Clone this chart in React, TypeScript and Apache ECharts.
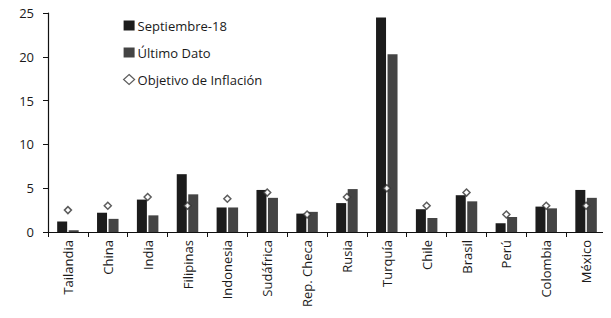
import React, { useEffect, useRef } from "react";
import * as echarts from "echarts";

const categories = [
  "Tailandia", "China", "India", "Filipinas", "Indonesia", "Sudáfrica", "Rep. Checa",
  "Rusia", "Turquía", "Chile", "Brasil", "Perú", "Colombia", "México",
];
const septiembre18 = [1.2, 2.2, 3.7, 6.6, 2.8, 4.8, 2.1, 3.3, 24.5, 2.6, 4.2, 1.0, 2.9, 4.8];
const ultimoDato = [0.2, 1.5, 1.9, 4.3, 2.8, 3.9, 2.3, 4.9, 20.3, 1.6, 3.5, 1.7, 2.7, 3.9];
const objetivo = [2.5, 3.0, 4.0, 3.0, 3.8, 4.5, 2.0, 4.0, 5.0, 3.0, 4.5, 2.0, 3.0, 3.0];
const yTicks = [0, 5, 10, 15, 20, 25];

const FONT = "Open Sans";

export default function App() {
  const ref = useRef<HTMLDivElement>(null);
  useEffect(() => {
    if (!ref.current) return;
    const chart = echarts.init(ref.current, undefined, { renderer: "svg" });
    chart.setOption({
      animation: false,
      backgroundColor: "#ffffff",
      textStyle: { fontFamily: FONT },
      legend: {
        orient: "vertical",
        left: 118,
        top: 14,
        itemGap: 14,
        itemWidth: 11,
        itemHeight: 10,
        textStyle: { fontFamily: FONT, fontSize: 13, color: "#1a1a1a", padding: [0, 0, 0, -2] },
        data: [
          { name: "Septiembre-18", icon: "rect" },
          { name: "Último Dato", icon: "rect" },
          { name: "Objetivo de Inflación", icon: "diamond", itemStyle: { color: "#fff", borderColor: "#333", borderWidth: 1.2 } },
        ],
      },
      grid: { left: 48, right: 5, top: 13, bottom: 86, containLabel: false },
      xAxis: {
        type: "category",
        data: categories,
        axisLine: { show: true, lineStyle: { color: "#111", width: 1.2 } },
        axisTick: { show: true, alignWithLabel: false, length: 5, lineStyle: { color: "#111" } },
        axisLabel: { rotate: 90, margin: 8, fontSize: 13, color: "#1a1a1a", fontFamily: FONT, interval: 0 },
      },
      yAxis: {
        type: "value",
        min: yTicks[0],
        max: yTicks[yTicks.length - 1],
        interval: 5,
        splitLine: { show: false },
        axisLine: { show: true, lineStyle: { color: "#111", width: 1.2 } },
        axisTick: { show: true, length: 5, lineStyle: { color: "#111" } },
        axisLabel: { fontSize: 13, color: "#1a1a1a", fontFamily: FONT, margin: 14 },
      },
      series: [
        {
          name: "Septiembre-18",
          type: "bar",
          data: septiembre18,
          barWidth: 10,
          barGap: "15%",
          itemStyle: { color: "#1c1c1c" },
        },
        {
          name: "Último Dato",
          type: "bar",
          data: ultimoDato,
          barWidth: 10,
          barGap: "15%",
          itemStyle: { color: "#444444" },
        },
        {
          name: "Objetivo de Inflación",
          type: "scatter",
          data: objetivo,
          symbol: "diamond",
          symbolSize: 7,
          z: 5,
          itemStyle: { color: "#ffffff", borderColor: "#333", borderWidth: 1.5 },
        },
      ],
    });
    return () => chart.dispose();
  }, []);
  return <div ref={ref} style={{ width: 611, height: 318, margin: -8 }} />;
}
